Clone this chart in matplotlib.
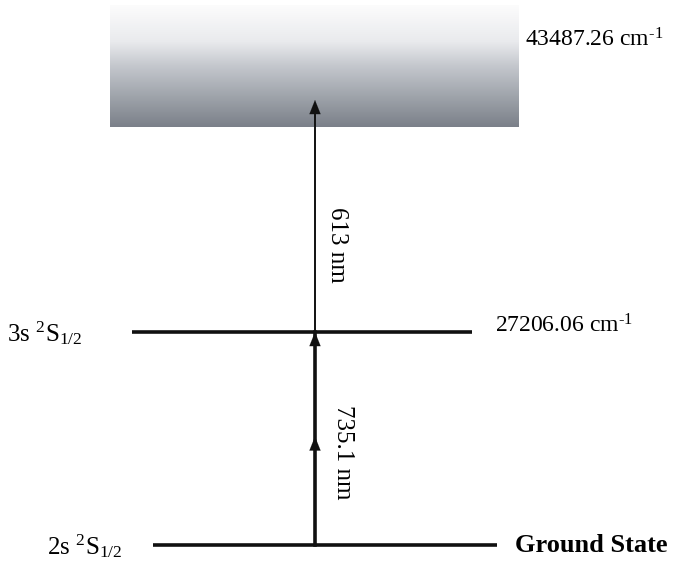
import matplotlib.pyplot as plt
import numpy as np
from matplotlib.colors import LinearSegmentedColormap

# level data
level_names = ['2s $\\mathregular{^2S_{1/2}}$', '3s $\\mathregular{^2S_{1/2}}$']
level_energies = ['Ground State', '27206.06 cm$\\mathregular{^{\\text{-}1}}$']
ionization = '43487.26 cm$\\mathregular{^{\\text{-}1}}$'
wavelengths = ['735.1 nm', '613 nm']

plt.rcParams['font.family'] = ['Liberation Serif', 'DejaVu Serif']
plt.rcParams['mathtext.fontset'] = 'custom'
plt.rcParams['mathtext.rm'] = 'Liberation Serif'

fig = plt.figure(figsize=(6.74, 5.63), dpi=100)
ax = fig.add_axes([0, 0, 1, 1])
ax.set_xlim(0, 674)
ax.set_ylim(563, 0)
ax.axis('off')

# layout (pixel positions)
level_y = [545, 332]
level_x = [(153, 497), (132, 472)]
name_x = [47, 7]
energy_x = [515, 495]
box = (110, 519, 5, 127)
arrow_x = 315

# continuum gradient
cmap = LinearSegmentedColormap.from_list(
    'cont', [(0, '#fcfcfc'), (0.3, '#e9eaed'), (0.5, '#c4c7cd'),
             (0.75, '#9fa4ab'), (1, '#7b8089')])
grad = np.linspace(0, 1, 256).reshape(-1, 1)
ax.imshow(grad, cmap=cmap, aspect='auto', extent=(box[0], box[1], box[3], box[2]), zorder=0)
ax.text(box[1] + 6, 40, ionization, fontsize=17, va='center', ha='left')

for (x0, x1), y, name, en, nx, ex in zip(level_x, level_y, level_names, level_energies,
                                         name_x, energy_x):
    ax.plot([x0, x1], [y, y], color='#111111', lw=2.6, solid_capstyle='butt')
    ax.text(nx, y + 1, name, fontsize=18, va='center', ha='left')
    if en == 'Ground State':
        ax.text(ex, y + 1, en, fontsize=19, fontweight='bold', va='center', ha='left')
    else:
        ax.text(ex, y - 6, en, fontsize=17, va='center', ha='left')

# first step (two-stage thick arrow)
y0, y1 = level_y
ax.plot([arrow_x, arrow_x], [y0, y1], color='#111111', lw=2.6)
for tip in [(y0 + y1) / 2 - 2, y1]:
    ax.annotate('', xy=(arrow_x, tip), xytext=(arrow_x, tip + 16),
                arrowprops=dict(arrowstyle='-|>,head_length=1.0,head_width=0.4',
                                color='#111111', lw=0.1, shrinkA=0, shrinkB=0))
ax.text(arrow_x + 28, 452, wavelengths[0], fontsize=18, rotation=-90,
        va='center', ha='center')

# second step into continuum
ax.plot([arrow_x, arrow_x], [y1 + 2, 115], color='#111111', lw=1.4)
ax.annotate('', xy=(arrow_x, 100), xytext=(arrow_x, 117),
            arrowprops=dict(arrowstyle='-|>,head_length=1.0,head_width=0.4',
                            color='#111111', lw=0.1, shrinkA=0, shrinkB=0))
ax.text(arrow_x + 22, 245, wavelengths[1], fontsize=18, rotation=-90,
        va='center', ha='center')

fig.savefig('out.png', dpi=100)
